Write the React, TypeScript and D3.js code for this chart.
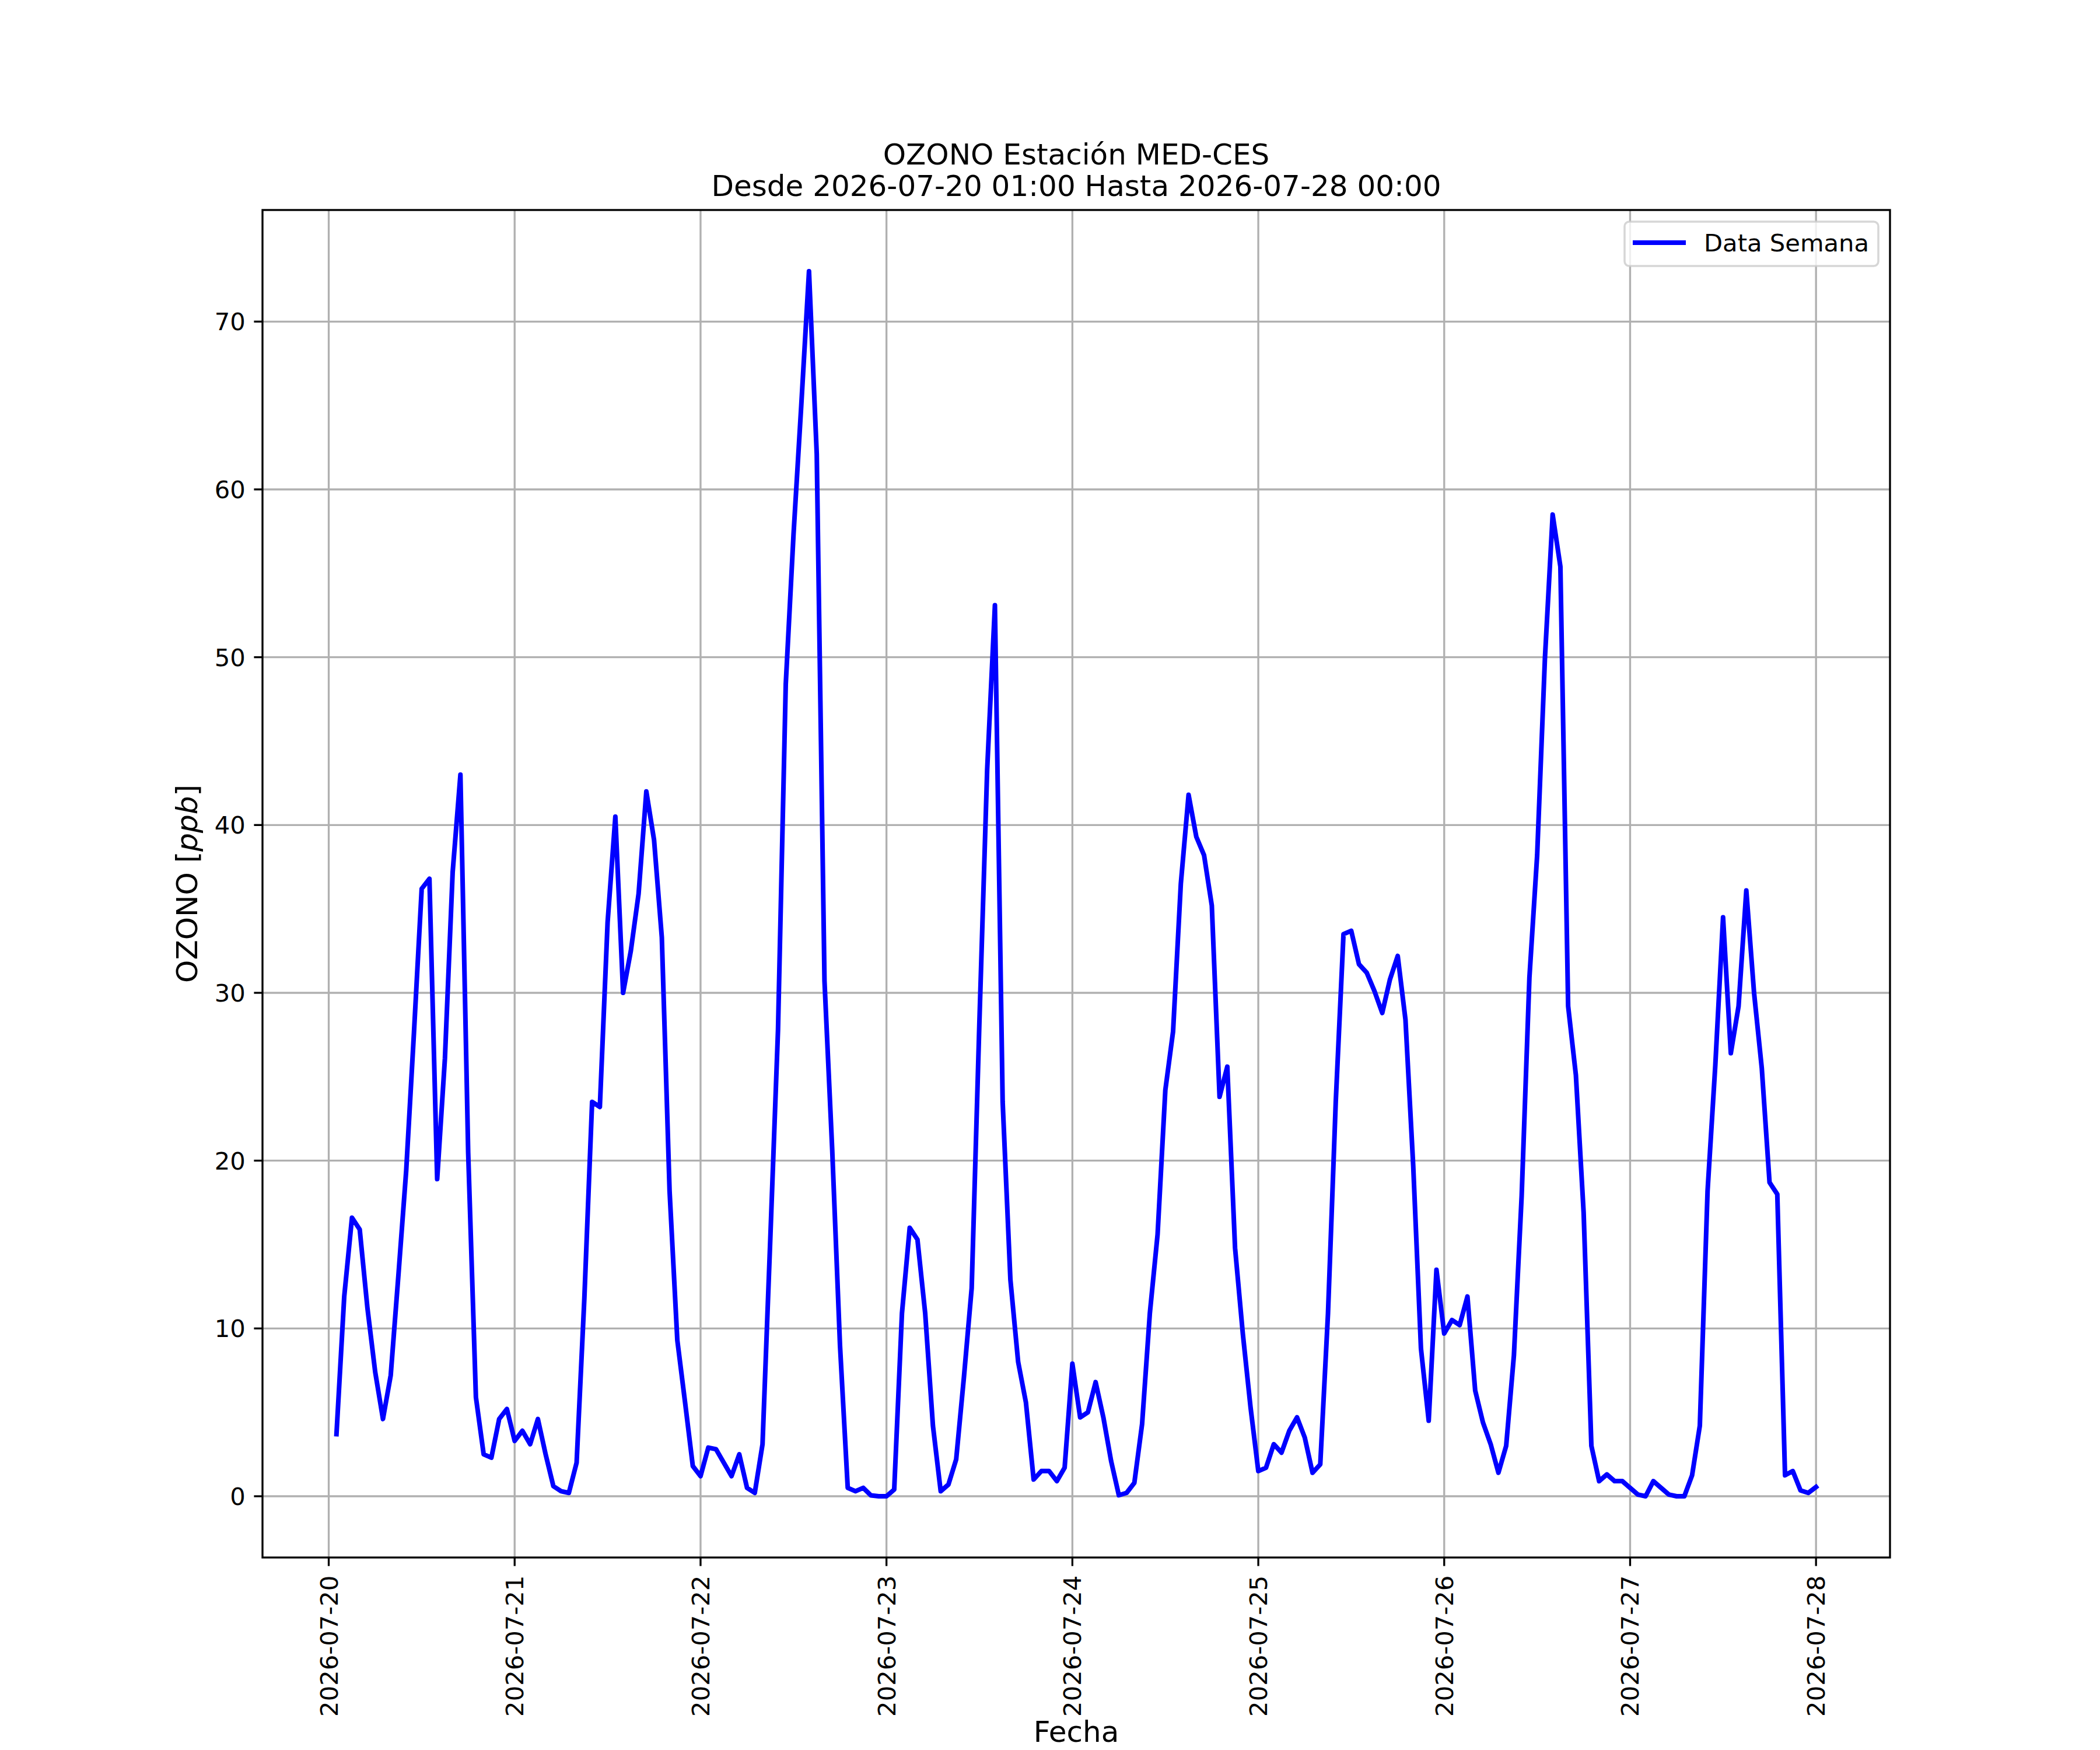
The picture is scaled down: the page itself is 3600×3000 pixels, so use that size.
import React from "react";
import * as d3 from "d3";

// Hourly ozone values (ppb), one array per day, 01:00 .. 24:00
const day20 = [3.7, 11.9, 16.6, 15.9, 11.2, 7.4, 4.6, 7.2, 13.2, 19.4, 27.6, 36.2, 36.8, 18.9, 26.1, 37.2, 43.0, 20.5, 5.9, 2.5, 2.3, 4.6, 5.2, 3.3];
const day21 = [3.9, 3.1, 4.6, 2.5, 0.6, 0.3, 0.2, 2.0, 11.8, 23.5, 23.2, 34.2, 40.5, 30.0, 32.5, 35.9, 42.0, 39.1, 33.3, 18.2, 9.3, 5.6, 1.8, 1.2];
const day22 = [2.9, 2.8, 2.0, 1.2, 2.5, 0.5, 0.2, 3.1, 15.3, 27.8, 48.4, 57.3, 65.0, 73.0, 62.1, 30.7, 20.6, 9.0, 0.5, 0.3, 0.5, 0.05, 0.0, 0.0];
const day23 = [0.4, 10.9, 16.0, 15.3, 10.9, 4.2, 0.3, 0.7, 2.2, 7.1, 12.4, 28.3, 43.3, 53.1, 23.5, 12.9, 8.0, 5.6, 1.0, 1.5, 1.5, 0.9, 1.7, 7.9];
const day24 = [4.7, 5.0, 6.8, 4.7, 2.1, 0.06, 0.2, 0.8, 4.3, 10.9, 15.6, 24.2, 27.7, 36.5, 41.8, 39.3, 38.2, 35.2, 23.8, 25.6, 14.8, 9.7, 5.3, 1.5];
const day25 = [1.7, 3.1, 2.6, 3.9, 4.7, 3.5, 1.4, 1.9, 10.9, 23.5, 33.5, 33.7, 31.7, 31.2, 30.1, 28.8, 30.8, 32.2, 28.4, 19.7, 8.8, 4.5, 13.5, 9.7];
const day26 = [10.5, 10.2, 11.9, 6.3, 4.4, 3.1, 1.4, 3.0, 8.4, 17.9, 30.9, 38.2, 49.9, 58.5, 55.4, 29.2, 25.1, 16.9, 3.0, 0.9, 1.3, 0.9, 0.9, 0.5];
const day27 = [0.1, 0.0, 0.9, 0.5, 0.1, 0.0, 0.0, 1.25, 4.2, 18.2, 25.7, 34.5, 26.4, 29.2, 36.1, 30.0, 25.5, 18.7, 18.0, 1.25, 1.5, 0.35, 0.2, 0.55];

const seriesDays = [day20, day21, day22, day23, day24, day25, day26, day27];
const firstTimestamp = "2026-07-20T01:00:00Z";

const yTicks = [0, 10, 20, 30, 40, 50, 60, 70];
const xTickLabels = [
  "2026-07-20", "2026-07-21", "2026-07-22", "2026-07-23", "2026-07-24",
  "2026-07-25", "2026-07-26", "2026-07-27", "2026-07-28",
];
const titleLines = ["OZONO Estación MED-CES", "Desde 2026-07-20 01:00 Hasta 2026-07-28 00:00"];
const legendLabel = "Data Semana";
const xLabel = "Fecha";

const W = 3600;
const H = 3000;
const M = { left: 450, right: 3240, top: 360, bottom: 2670 };
const FONT = "'DejaVu Sans', Verdana, sans-serif";

export default function App() {
  const t0 = new Date(firstTimestamp).getTime();
  const values = seriesDays.flat();
  const data = values.map((v, i) => ({ t: new Date(t0 + i * 3600 * 1000), v }));

  const [tMin, tMax] = d3.extent(data, (d) => d.t.getTime()) as [number, number];
  const tPad = (tMax - tMin) * 0.05;
  const x = d3
    .scaleUtc()
    .domain([new Date(tMin - tPad), new Date(tMax + tPad)])
    .range([M.left, M.right]);

  const vMin = d3.min(values) as number;
  const vMax = d3.max(values) as number;
  const vPad = (vMax - vMin) * 0.05;
  const y = d3.scaleLinear().domain([vMin - vPad, vMax + vPad]).range([M.bottom, M.top]);

  const line = d3
    .line<{ t: Date; v: number }>()
    .x((d) => x(d.t))
    .y((d) => y(d.v));

  const xTicks = xTickLabels.map((s) => new Date(s + "T00:00:00Z"));
  const fmt = d3.utcFormat("%Y-%m-%d");

  const gridColor = "#b0b0b0";
  const lw = 3.33;
  const tickLen = 14.6;
  const tickFont = 41.7;
  const labelFont = 50;

  return (
    <svg
      width={W}
      height={H}
      viewBox={`0 0 ${W} ${H}`}
      style={{ position: "absolute", left: 0, top: 0, background: "white" }}
      fontFamily={FONT}
    >
      <rect x={0} y={0} width={W} height={H} fill="white" />
      {/* grid */}
      <g>
        {xTicks.map((d, i) => (
          <line key={"gx" + i} x1={x(d)} x2={x(d)} y1={M.top} y2={M.bottom} stroke={gridColor} strokeWidth={lw} />
        ))}
        {yTicks.map((v) => (
          <line key={"gy" + v} x1={M.left} x2={M.right} y1={y(v)} y2={y(v)} stroke={gridColor} strokeWidth={lw} />
        ))}
      </g>
      {/* data line */}
      <path
        d={line(data) || ""}
        fill="none"
        stroke="#0000ff"
        strokeWidth={8}
        strokeLinejoin="round"
        strokeLinecap="square"
      />
      {/* spines */}
      <rect
        x={M.left}
        y={M.top}
        width={M.right - M.left}
        height={M.bottom - M.top}
        fill="none"
        stroke="black"
        strokeWidth={lw}
      />
      {/* y ticks */}
      <g>
        {yTicks.map((v) => (
          <g key={"yt" + v}>
            <line x1={M.left - tickLen} x2={M.left} y1={y(v)} y2={y(v)} stroke="black" strokeWidth={lw} />
            <text
              x={M.left - tickLen - 14.6}
              y={y(v)}
              dy="0.36em"
              textAnchor="end"
              fontSize={tickFont}
              fill="black"
            >
              {v}
            </text>
          </g>
        ))}
      </g>
      {/* x ticks */}
      <g>
        {xTicks.map((d, i) => (
          <g key={"xt" + i}>
            <line x1={x(d)} x2={x(d)} y1={M.bottom} y2={M.bottom + tickLen} stroke="black" strokeWidth={lw} />
            <text
              transform={`translate(${x(d)},${M.bottom + tickLen + 16}) rotate(-90)`}
              dy="0.36em"
              textAnchor="end"
              fontSize={tickFont}
              fill="black"
            >
              {fmt(d)}
            </text>
          </g>
        ))}
      </g>
      {/* axis labels */}
      <text x={(M.left + M.right) / 2} y={2986} textAnchor="middle" fontSize={labelFont} fill="black">
        {xLabel}
      </text>
      <text
        transform={`translate(338,${(M.top + M.bottom) / 2}) rotate(-90)`}
        textAnchor="middle"
        fontSize={labelFont}
        fill="black"
      >
        OZONO [<tspan fontStyle="italic">ppb</tspan>]
      </text>
      {/* title */}
      <text x={(M.left + M.right) / 2} y={282} textAnchor="middle" fontSize={labelFont} fill="black">
        {titleLines[0]}
      </text>
      <text x={(M.left + M.right) / 2} y={336} textAnchor="middle" fontSize={labelFont} fill="black">
        {titleLines[1]}
      </text>
      {/* legend */}
      <g>
        <rect
          x={2785}
          y={380}
          width={435}
          height={76}
          rx={8}
          ry={8}
          fill="white"
          fillOpacity={0.8}
          stroke="#cccccc"
          strokeOpacity={0.8}
          strokeWidth={3.5}
        />
        <line x1={2799} x2={2890} y1={416} y2={416} stroke="#0000ff" strokeWidth={8} />
        <text x={2921} y={431} fontSize={tickFont} fill="black">
          {legendLabel}
        </text>
      </g>
    </svg>
  );
}
